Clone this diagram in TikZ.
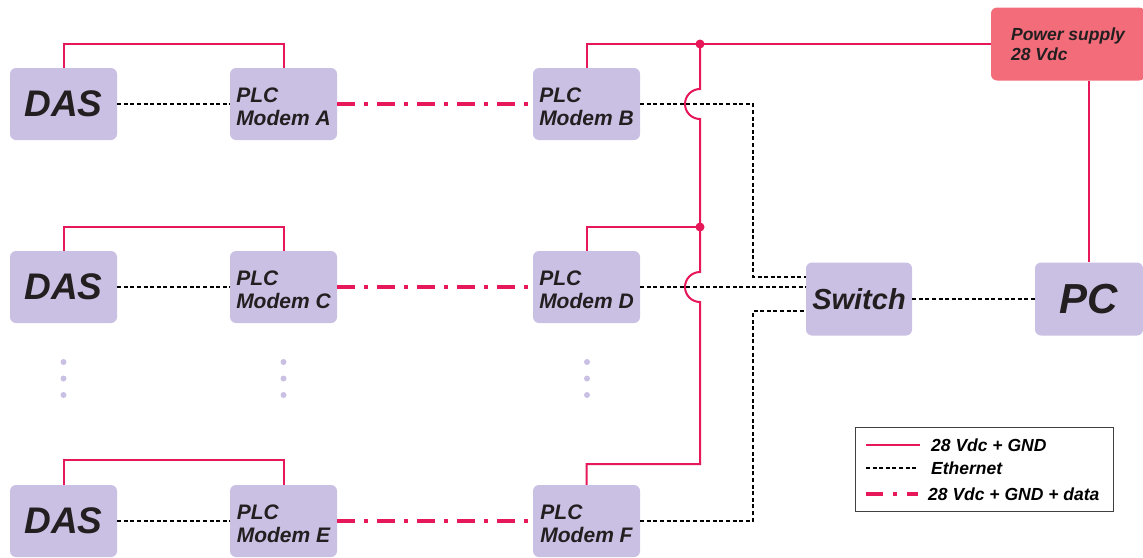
\documentclass[tikz,border=0pt]{standalone}
\usepackage{fontspec}
\setmainfont{Liberation Sans}
\usepackage{tikz}

\definecolor{boxlav}{RGB}{201,192,228}
\definecolor{pwrred}{RGB}{230,24,90}
\definecolor{psfill}{RGB}{242,108,122}
\definecolor{txtdark}{RGB}{35,31,32}

\begin{document}
\begin{tikzpicture}[x=1pt, y=1pt,
  unit/.style={fill=boxlav, rounded corners=6pt, minimum width=107pt,
    minimum height=72pt, inner sep=0pt, text=txtdark},
  big/.style={font=\fontsize{37}{40}\selectfont\bfseries\itshape},
  modem/.style={align=left, font=\fontsize{21}{23}\selectfont\bfseries\itshape,
    text height=44pt},
  small/.style={align=left, font=\fontsize{17.5}{20}\selectfont\bfseries\itshape},
  pwr/.style={pwrred, line width=2pt},
  pwrdata/.style={pwrred, line width=3.6pt,
    dash pattern=on 18pt off 9pt on 4pt off 9pt},
  eth/.style={black, line width=1.8pt, dash pattern=on 4pt off 2.6pt},
  vdot/.style={circle, fill=boxlav, inner sep=0pt, minimum size=6pt}]

  \useasboundingbox (0,0) rectangle (1143,-557);

  % ── units, one row per DAS ───────────────────────────────────────────────
  \def\ra{-104}\def\rb{-287}\def\rc{-521}

  \node[unit, big]   (das1) at (63.5,\ra) {DAS};
  \node[unit, modem] (mA)   at (283.5,\ra) {PLC\\Modem A};
  \node[unit, modem] (mB)   at (586.5,\ra) {PLC\\Modem B};

  \node[unit, big]   (das2) at (63.5,\rb) {DAS};
  \node[unit, modem] (mC)   at (283.5,\rb) {PLC\\Modem C};
  \node[unit, modem] (mD)   at (586.5,\rb) {PLC\\Modem D};

  \node[unit, big]   (das3) at (63.5,\rc) {DAS};
  \node[unit, modem] (mE)   at (283.5,\rc) {PLC\\Modem E};
  \node[unit, modem] (mF)   at (586.5,\rc) {PLC\\Modem F};

  \node[unit, minimum width=106pt, minimum height=73pt,
    font=\fontsize{29}{33}\selectfont\bfseries\itshape] (sw) at (859,-299) {Switch};
  \node[unit, minimum width=108pt, minimum height=73pt,
    font=\fontsize{42}{46}\selectfont\bfseries\itshape] (pc) at (1089,-299) {PC};
  \node[unit, small, fill=psfill, minimum width=154pt, minimum height=73pt]
    (ps) at (1068,-44) {Power supply\\28 Vdc};

  % ── more rows in between ─────────────────────────────────────────────────
  \foreach \x in {63.5,283.5,587}{
    \foreach \y in {-362,-378.5,-395}{
      \node[vdot] at (\x,\y) {};
    }
  }

  % ── 28 Vdc supply ────────────────────────────────────────────────────────
  \coordinate (j1) at (700,-44);
  \coordinate (j2) at (700,-227);

  \draw[pwr] (ps.west) -| (mB.north);
  \draw[pwr] (j2) -| (mD.north);
  \draw[pwr] (j1) -- (700,-89) arc[start angle=90, end angle=270, radius=15]
    -- (700,-272) arc[start angle=90, end angle=270, radius=15]
    -- (700,-464) -| (mF.north);
  \draw[pwr] (pc.north) -- (pc.north |- ps.south);

  \fill[pwrred] (j1) circle (4.5pt) (j2) circle (4.5pt);

  \draw[pwr] (das1.north) -- ++(0,24) -| (mA.north);
  \draw[pwr] (das2.north) -- ++(0,24) -| (mC.north);
  \draw[pwr] (das3.north) -- ++(0,25) -| (mE.north);

  % ── power line link between modems ───────────────────────────────────────
  \draw[pwrdata] (mA.east) -- (mB.west);
  \draw[pwrdata] (mC.east) -- (mD.west);
  \draw[pwrdata] (mE.east) -- (mF.west);

  % ── ethernet ─────────────────────────────────────────────────────────────
  \draw[eth] (das1.east) -- (mA.west);
  \draw[eth] (das2.east) -- (mC.west);
  \draw[eth] (das3.east) -- (mE.west);

  \draw[eth] (mB.east) -- (753,\ra) |- ([yshift=22pt]sw.west);
  \draw[eth] (mD.east) -- (mD.east -| sw.west);
  \draw[eth] (mF.east) -- (753,\rc) |- ([yshift=-12pt]sw.west);
  \draw[eth] (sw.east) -- (pc.west);

  % ── key ──────────────────────────────────────────────────────────────────
  \node[draw=black!75, line width=0.8pt, minimum width=258pt,
    minimum height=84pt, inner sep=0pt] (key) at (984,-469) {};
  \node[small, anchor=west, inner sep=0pt] (k1) at (931,-445) {28 Vdc + GND};
  \node[small, anchor=west, inner sep=0pt] (k2) at (931,-468) {Ethernet};
  \node[small, anchor=west, inner sep=0pt] (k3) at (928,-494) {28 Vdc + GND + data};

  \draw[pwr] (866,-445) -- (920,-445);
  \draw[eth] (866,-468) -- (918,-468);
  \draw[pwrdata, dash pattern=on 17pt off 10pt on 4pt off 10pt]
    (866,-494) -- (918,-494);

\end{tikzpicture}
\end{document}
